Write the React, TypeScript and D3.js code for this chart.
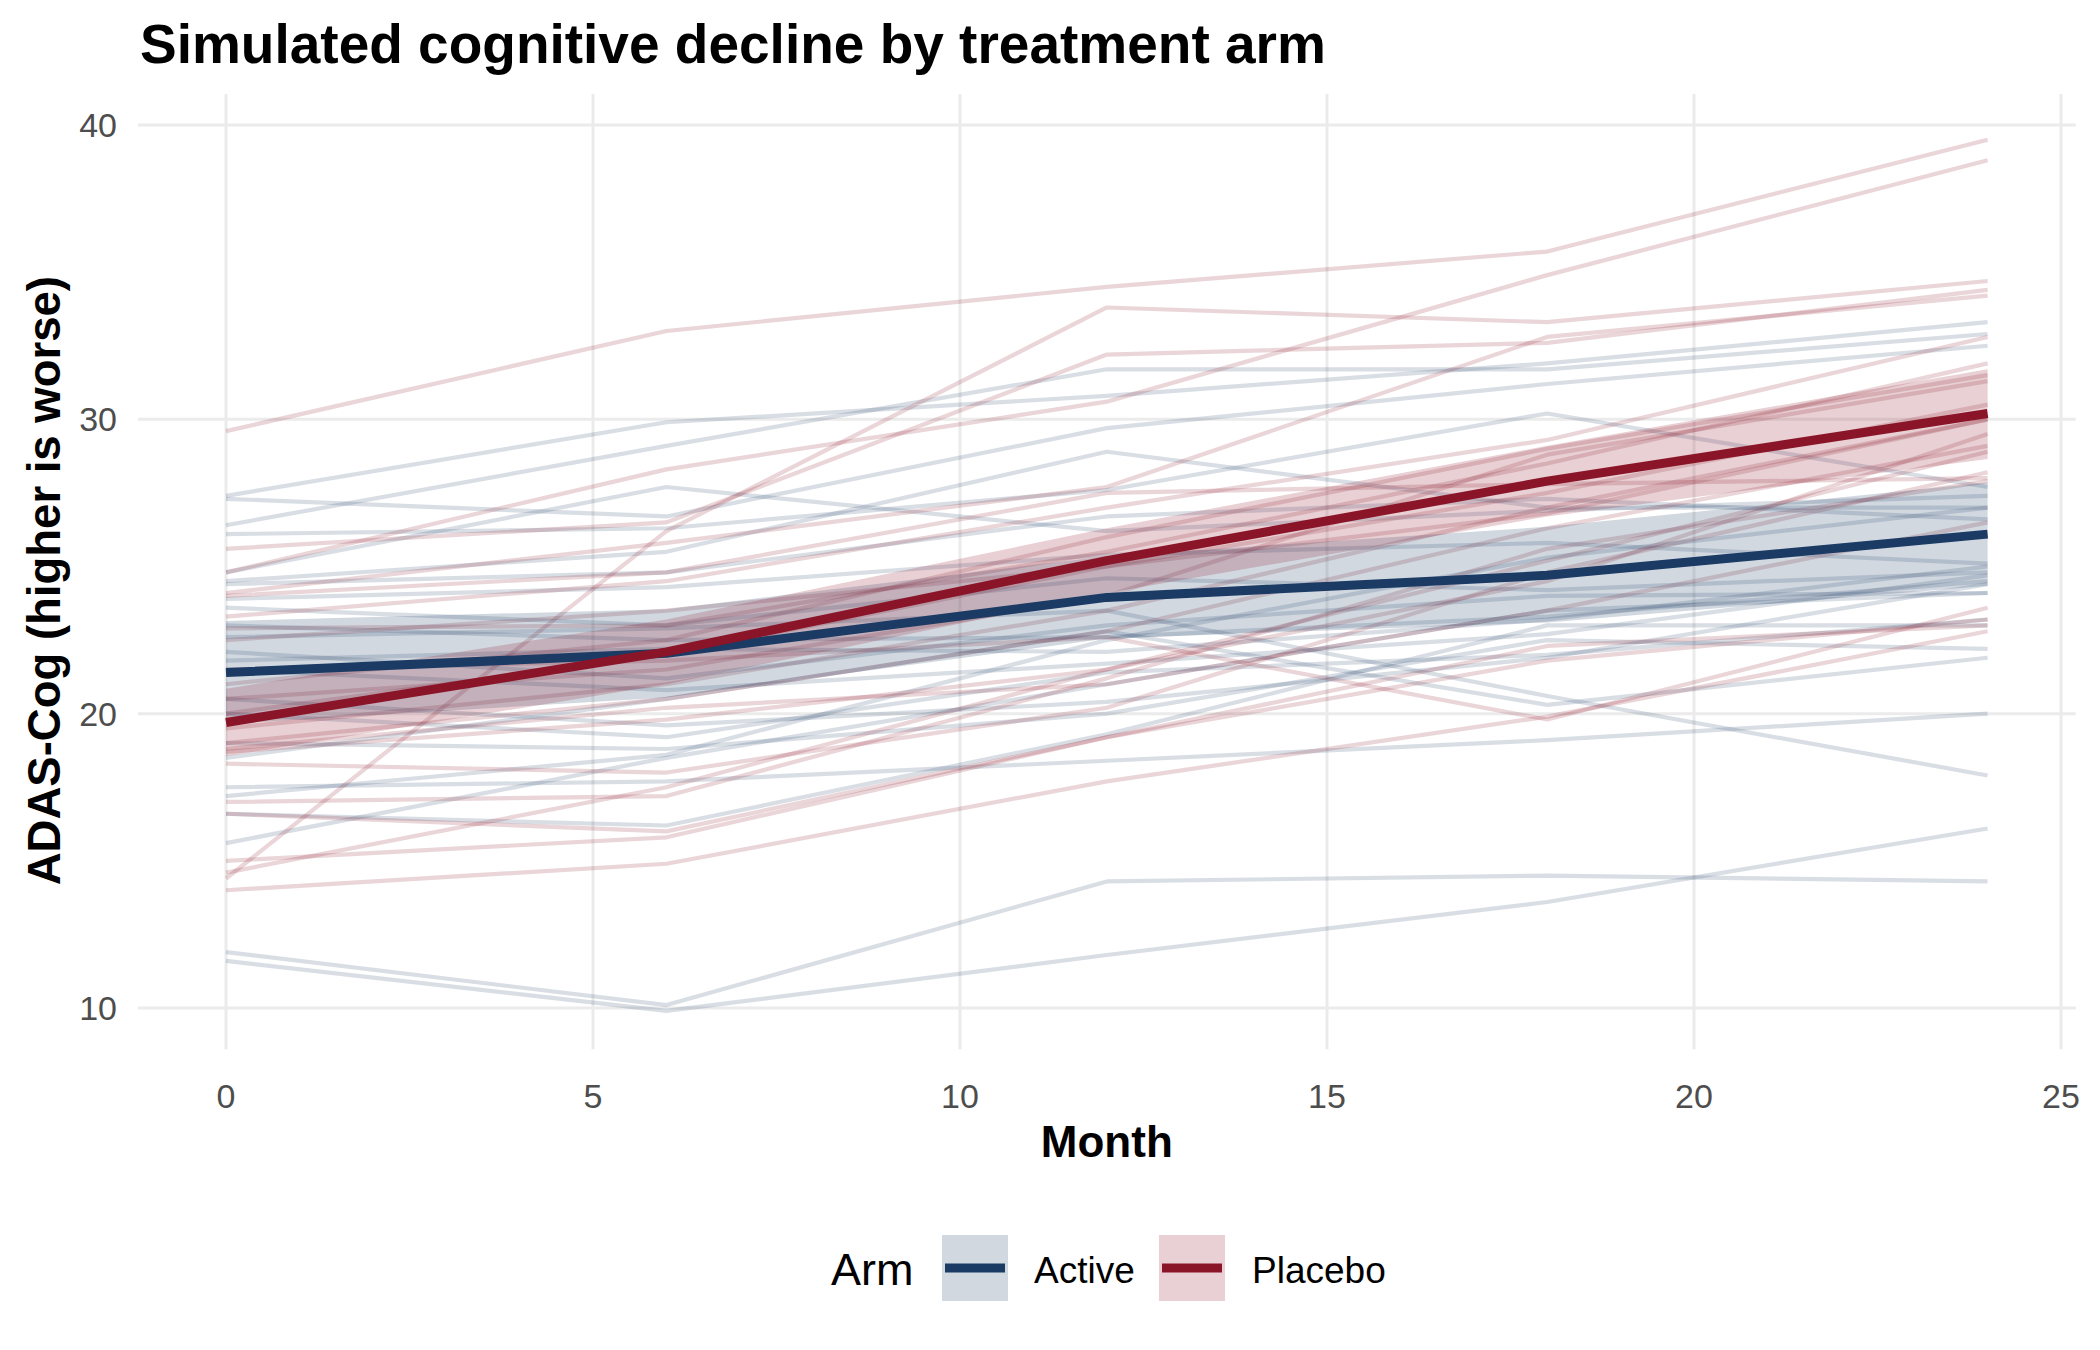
import React from "react";
import * as d3 from "d3";

const WIDTH = 2100;
const HEIGHT = 1350;

const months = [0, 6, 12, 18, 24];
const xTicks = [0, 5, 10, 15, 20, 25];
const yTicks = [10, 20, 30, 40];
const arms = ["Active", "Placebo"];

// individual subject trajectories, value at each month
const activeSubjects = [
  [27.4, 29.9, 30.8, 31.9, 33.3],
  [26.4, 29.1, 31.7, 31.7, 32.9],
  [27.3, 26.7, 29.7, 31.2, 32.5],
  [26.1, 26.3, 27.6, 30.2, 27.7],
  [24.8, 27.7, 26.2, 26.9, 27.4],
  [24.5, 25.5, 28.9, 27.0, 27.0],
  [24.4, 24.8, 26.7, 27.3, 26.6],
  [23.9, 24.3, 25.4, 25.8, 25.1],
  [23.6, 23.0, 24.6, 24.2, 24.8],
  [23.0, 22.5, 22.6, 23.3, 24.5],
  [22.6, 22.9, 23.5, 20.6, 17.9],
  [22.1, 21.2, 23.0, 24.0, 24.1],
  [21.8, 22.2, 22.1, 23.2, 25.0],
  [21.5, 20.8, 21.7, 22.7, 24.7],
  [20.5, 19.6, 20.4, 21.9, 24.4],
  [20.0, 19.2, 21.4, 22.0, 23.2],
  [19.0, 18.8, 20.0, 22.5, 22.2],
  [18.5, 20.5, 22.8, 20.3, 21.9],
  [17.5, 17.7, 18.4, 19.1, 20.0],
  [16.6, 16.2, 19.3, 23.0, 23.0],
  [15.6, 18.5, 21.0, 23.5, 24.1],
  [17.2, 18.6, 22.5, 25.3, 27.0],
  [11.9, 10.1, 14.3, 14.5, 14.3],
  [11.6, 9.9, 11.8, 13.6, 16.1],
];

const placeboSubjects = [
  [29.6, 33.0, 34.5, 35.7, 39.5],
  [24.8, 28.3, 30.6, 34.9, 38.8],
  [14.4, 26.2, 33.8, 33.3, 34.7],
  [25.6, 26.5, 32.2, 32.6, 34.4],
  [24.1, 25.8, 27.7, 32.8, 34.2],
  [23.3, 24.5, 27.0, 29.3, 32.8],
  [22.9, 23.0, 25.5, 28.5, 31.9],
  [21.0, 22.5, 26.0, 29.0, 31.5],
  [20.5, 21.5, 24.0, 28.8, 31.3],
  [20.0, 22.0, 25.0, 27.5, 30.5],
  [19.5, 21.0, 23.5, 27.0, 30.0],
  [19.0, 20.5, 22.8, 26.3, 29.1],
  [18.7, 19.8, 21.5, 25.2, 28.9],
  [18.3, 18.0, 20.2, 24.8, 28.2],
  [17.0, 17.2, 21.2, 25.6, 27.9],
  [21.5, 21.8, 22.6, 19.8, 23.6],
  [15.0, 15.8, 19.2, 21.8, 23.2],
  [14.0, 14.9, 17.7, 19.9, 22.8],
  [18.8, 20.2, 21.0, 23.5, 26.5],
  [14.6, 17.5, 21.5, 24.5, 29.5],
  [24.0, 24.8, 27.5, 27.8, 28.0],
  [22.5, 23.5, 25.0, 26.8, 30.0],
  [16.6, 16.0, 19.2, 22.3, 23.0],
];

// arm means and confidence band
const activeMean = [21.4, 22.05, 23.95, 24.7, 26.1];
const activeLower = [19.65, 20.55, 22.55, 23.1, 24.35];
const activeUpper = [23.15, 23.55, 25.35, 26.35, 27.85];
const placeboMean = [19.7, 22.1, 25.2, 27.9, 30.2];
const placeboLower = [18.55, 21.0, 24.1, 26.7, 28.65];
const placeboUpper = [20.85, 23.2, 26.3, 29.1, 31.7];

const colors: Record<string, string> = {
  Active: "#1B3A64",
  Placebo: "#8B1528",
};

const FONT = "'Liberation Sans', Arial, Helvetica, sans-serif";

const xScale = d3.scaleLinear().domain([0, 25]).range([226, 2061]);
const yScale = d3.scaleLinear().domain([10, 40]).range([1008, 125]);

const panelLeft = xScale(-1.2);
const panelRight = xScale(25.2);
const panelTop = yScale(41.05);
const panelBottom = yScale(8.6);

const line = d3
  .line<number>()
  .x((_, i) => xScale(months[i]))
  .y((d) => yScale(d));

const band = (lower: number[], upper: number[]) =>
  d3
    .area<number>()
    .x((_, i) => xScale(months[i]))
    .y0((_, i) => yScale(lower[i]))
    .y1((_, i) => yScale(upper[i]))(months);

export default function App() {
  const legendItems = [
    { arm: arms[0], keyX: 942, textX: 1034 },
    { arm: arms[1], keyX: 1159, textX: 1252 },
  ];

  return (
    <div style={{ position: "absolute", left: 0, top: 0 }}>
      <svg width={WIDTH} height={HEIGHT} style={{ display: "block", background: "#fff" }} fontFamily={FONT}>
        {/* grid */}
        <g stroke="#ebebeb" strokeWidth={3}>
          {yTicks.map((t) => (
            <line key={`gy${t}`} x1={panelLeft} x2={panelRight} y1={yScale(t)} y2={yScale(t)} />
          ))}
          {xTicks.map((t) => (
            <line key={`gx${t}`} x1={xScale(t)} x2={xScale(t)} y1={panelTop} y2={panelBottom} />
          ))}
        </g>

        {/* subject lines */}
        <g fill="none" strokeWidth={4.2} strokeLinejoin="round">
          {activeSubjects.map((s, i) => (
            <path key={`a${i}`} d={line(s) || ""} stroke={colors.Active} strokeOpacity={0.17} />
          ))}
          {placeboSubjects.map((s, i) => (
            <path key={`p${i}`} d={line(s) || ""} stroke={colors.Placebo} strokeOpacity={0.18} />
          ))}
        </g>

        {/* confidence bands */}
        <path d={band(activeLower, activeUpper) || ""} fill={colors.Active} fillOpacity={0.2} />
        <path d={band(placeboLower, placeboUpper) || ""} fill={colors.Placebo} fillOpacity={0.2} />

        {/* mean lines */}
        <path d={line(activeMean) || ""} fill="none" stroke={colors.Active} strokeWidth={9} strokeLinejoin="round" />
        <path d={line(placeboMean) || ""} fill="none" stroke={colors.Placebo} strokeWidth={9} strokeLinejoin="round" />

        {/* axes text */}
        <g fontSize={34} fill="#4d4d4d">
          {yTicks.map((t) => (
            <text key={`ty${t}`} x={117} y={yScale(t) + 12} textAnchor="end">
              {t}
            </text>
          ))}
          {xTicks.map((t) => (
            <text key={`tx${t}`} x={xScale(t)} y={1108} textAnchor="middle">
              {t}
            </text>
          ))}
        </g>

        <text x={(panelLeft + panelRight) / 2} y={1157} textAnchor="middle" fontSize={44} fontWeight="bold">
          Month
        </text>
        <text
          transform={`translate(60, ${(panelTop + panelBottom) / 2 + 9}) rotate(-90)`}
          textAnchor="middle"
          fontSize={45.5}
          fontWeight="bold"
        >
          ADAS-Cog (higher is worse)
        </text>

        <text x={140} y={63} fontSize={55} fontWeight="bold">
          Simulated cognitive decline by treatment arm
        </text>

        {/* legend */}
        <text x={831} y={1285} fontSize={45}>
          Arm
        </text>
        {legendItems.map(({ arm, keyX, textX }) => (
          <g key={arm}>
            <rect x={keyX} y={1235} width={66} height={66} fill={colors[arm]} fillOpacity={0.2} />
            <line x1={keyX + 3} x2={keyX + 63} y1={1268} y2={1268} stroke={colors[arm]} strokeWidth={9} />
            <text x={textX} y={1283} fontSize={37}>
              {arm}
            </text>
          </g>
        ))}
      </svg>
    </div>
  );
}
